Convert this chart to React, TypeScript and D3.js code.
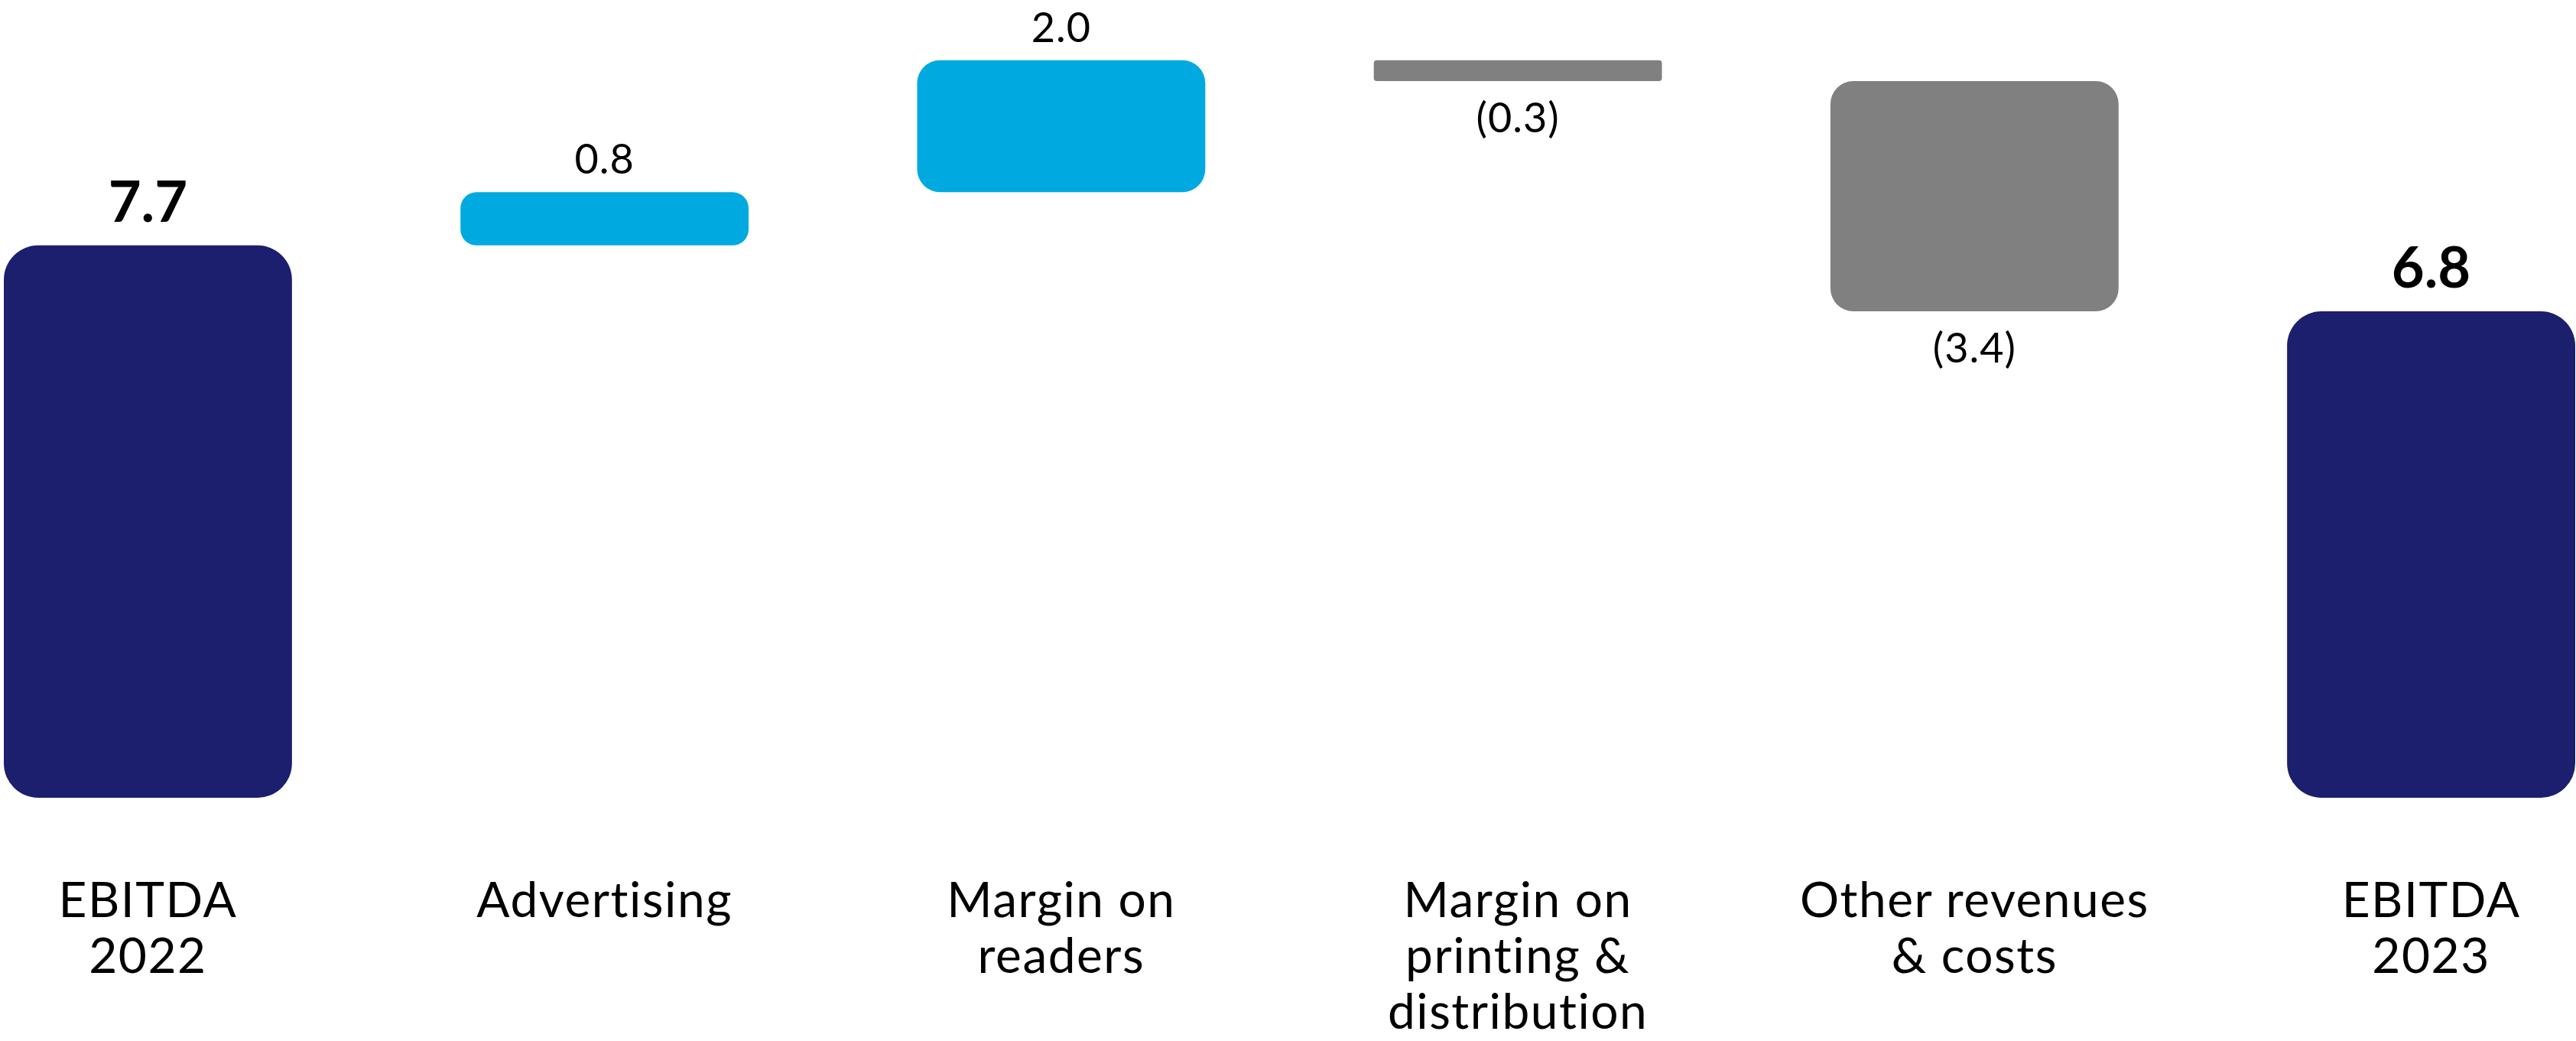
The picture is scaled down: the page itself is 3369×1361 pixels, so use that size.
import React, { useEffect } from "react";
import * as d3 from "d3";

const categories = ["EBITDA 2022", "Advertising", "Margin on readers", "Margin on printing & distribution", "Other revenues & costs", "EBITDA 2023"];
const categoryLines = [["EBITDA", "2022"], ["Advertising"], ["Margin on", "readers"], ["Margin on", "printing &", "distribution"], ["Other revenues", "& costs"], ["EBITDA", "2023"]];
const startTotal = 7.7;
const deltas = [0.74, 1.84, -0.29, -3.21];
const valueLabels = ["7.7", "0.8", "2.0", "(0.3)", "(3.4)", "6.8"];

const W = 3369;
const H = 1361;
const NAVY = "#1b1f6d";
const BLUE = "#00aae0";
const GRAY = "#808080";
const FONT = "Lato, 'Open Sans', sans-serif";

type Bar = { cat: string; y0: number; y1: number; kind: "total" | "up" | "down"; label: string; lines: string[] };

export default function App() {
  useEffect(() => {
    document.body.style.margin = "0";
  }, []);

  const bars: Bar[] = [];
  let run = startTotal;
  bars.push({ cat: categories[0], y0: 0, y1: startTotal, kind: "total", label: valueLabels[0], lines: categoryLines[0] });
  deltas.forEach((d, i) => {
    const from = run;
    run = run + d;
    bars.push({ cat: categories[i + 1], y0: Math.min(from, run), y1: Math.max(from, run), kind: d >= 0 ? "up" : "down", label: valueLabels[i + 1], lines: categoryLines[i + 1] });
  });
  bars.push({ cat: categories[5], y0: 0, y1: run, kind: "total", label: valueLabels[5], lines: categoryLines[5] });

  const x = d3.scaleBand<string>().domain(categories).range([5, 3368]).paddingInner(0.369).paddingOuter(0);
  const y = d3.scaleLinear().domain([0, 11.12]).range([1043, 0]);

  const roundedRect = (x0: number, yTop: number, w: number, h: number, r: number) => {
    const p = d3.path();
    p.moveTo(x0 + r, yTop);
    p.lineTo(x0 + w - r, yTop);
    p.arcTo(x0 + w, yTop, x0 + w, yTop + r, r);
    p.lineTo(x0 + w, yTop + h - r);
    p.arcTo(x0 + w, yTop + h, x0 + w - r, yTop + h, r);
    p.lineTo(x0 + r, yTop + h);
    p.arcTo(x0, yTop + h, x0, yTop + h - r, r);
    p.lineTo(x0, yTop + r);
    p.arcTo(x0, yTop, x0 + r, yTop, r);
    p.closePath();
    return p.toString();
  };

  return (
    <svg width={W} height={H} style={{ display: "block", background: "#fff" }} fontFamily={FONT}>
      {bars.map((b) => {
        const bx = x(b.cat)!;
        const bw = x.bandwidth();
        const top = y(b.y1);
        const bottom = y(b.y0);
        const h = bottom - top;
        const r = b.kind === "total" ? 45 : h < 40 ? 4 : Math.min(0.3 * h, 30);
        const fill = b.kind === "total" ? NAVY : b.kind === "up" ? BLUE : GRAY;
        const cx = bx + bw / 2;
        return (
          <g key={b.cat}>
            <path d={roundedRect(bx, top, bw, h, r)} fill={fill} />
            {b.kind === "total" ? (
              <text x={cx} y={top - 31} textAnchor="middle" fontSize={74} fontWeight={700} fill="#000">{b.label}</text>
            ) : b.kind === "up" ? (
              <text x={cx} y={top - 24} textAnchor="middle" fontSize={54} letterSpacing={1} fill="#000">{b.label}</text>
            ) : (
              <text x={cx} y={bottom + 67} textAnchor="middle" fontSize={54} letterSpacing={1} fill="#000">{b.label}</text>
            )}
            <text textAnchor="middle" fontSize={64} letterSpacing={1.5} fill="#000">
              {b.lines.map((ln, k) => (
                <tspan key={k} x={cx} y={1199 + k * 73}>{ln}</tspan>
              ))}
            </text>
          </g>
        );
      })}
    </svg>
  );
}
